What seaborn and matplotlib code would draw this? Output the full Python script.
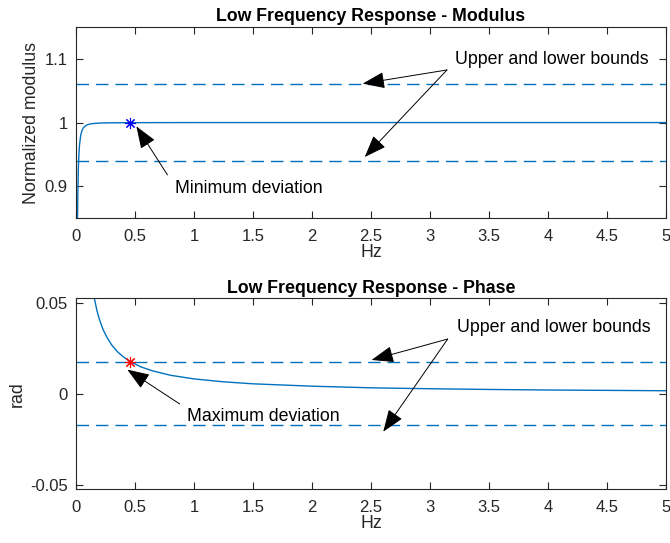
import matplotlib
matplotlib.use("Agg")
import matplotlib.pyplot as plt
import seaborn as sns
import pandas as pd

# ---- data ----
mod_freq = [0.0, 0.001, 0.002, 0.004, 0.006, 0.008, 0.01, 0.013, 0.016, 0.02, 0.025,
            0.03, 0.04, 0.05, 0.06, 0.07, 0.085, 0.1, 0.12, 0.15, 0.2, 0.3, 0.46,
            0.7, 1.0, 2.0, 3.0, 4.0, 5.0]
mod_value = [0.0, 0.12, 0.24, 0.44, 0.6, 0.70, 0.78, 0.85, 0.89, 0.927, 0.951,
             0.965, 0.980, 0.987, 0.991, 0.993, 0.9955, 0.9967, 0.9977, 0.9985, 0.9992, 0.9996, 0.9998,
             0.9999, 1.0, 1.0, 1.0, 1.0, 1.0]

ph_freq = [0.0, 0.02, 0.05, 0.08, 0.1, 0.12, 0.15, 0.18, 0.2, 0.23, 0.26, 0.3, 0.35, 0.4,
           0.46, 0.55, 0.65, 0.8, 1.0, 1.25, 1.5, 2.0, 2.5, 3.0, 3.5, 4.0, 4.5, 5.0]
ph_value = [0.0, 0.39, 0.161, 0.101, 0.081, 0.0675, 0.054, 0.045, 0.0405, 0.0352, 0.0312,
            0.027, 0.0231, 0.0203, 0.0176, 0.0147, 0.0125, 0.0101, 0.0081, 0.0065, 0.0054,
            0.0041, 0.0032, 0.0027, 0.0023, 0.0020, 0.0018, 0.0016]

mod_bounds = [1.06, 0.94]
ph_bounds = [0.01745, -0.01745]
mod_point = (0.46, 0.9998)
ph_point = (0.46, 0.0176)

x_ticks = [0, 0.5, 1, 1.5, 2, 2.5, 3, 3.5, 4, 4.5, 5]
x_ticklabels = ["0", "0.5", "1", "1.5", "2", "2.5", "3", "3.5", "4", "4.5", "5"]
mod_yticks = [0.9, 1.0, 1.1]
mod_yticklabels = ["0.9", "1", "1.1"]
ph_yticks = [-0.05, 0, 0.05]
ph_yticklabels = ["-0.05", "0", "0.05"]

titles = ["Low Frequency Response - Modulus", "Low Frequency Response - Phase"]
ylabels = ["Normalized modulus", "rad"]

sns.set_theme(style="white")
plt.rcParams["font.family"] = ["Liberation Sans", "DejaVu Sans"]
plt.rcParams["font.size"] = 11.5

LINE = "#0072BD"
AX = "#262626"
TXT = 12.8

fig = plt.figure(figsize=(6.7, 5.43), dpi=100)
ax1 = fig.add_axes([0.1134, 0.598, 0.8806, 0.3526])
ax2 = fig.add_axes([0.1134, 0.0994, 0.8806, 0.3513])

df_mod = pd.DataFrame({"Hz": mod_freq, "val": mod_value})
df_ph = pd.DataFrame({"Hz": ph_freq, "val": ph_value})

sns.lineplot(data=df_mod, x="Hz", y="val", ax=ax1, color=LINE, lw=1.0, sort=False)
sns.lineplot(data=df_ph, x="Hz", y="val", ax=ax2, color=LINE, lw=1.0, sort=False)

for b in mod_bounds:
    ax1.axhline(b, color=LINE, lw=1.0, dashes=(9, 5))
for b in ph_bounds:
    ax2.axhline(b, color=LINE, lw=1.0, dashes=(9, 5))

ax1.plot([mod_point[0]], [mod_point[1]], marker=(8, 2, 0), color="blue", ms=8, mew=0.8, ls="none")
ax2.plot([ph_point[0]], [ph_point[1]], marker=(8, 2, 0), color="red", ms=8, mew=0.8, ls="none")

ax1.set_ylim(0.85, 1.15)
ax2.set_ylim(-0.0524, 0.0524)

for ax, yt, ytl, t, yl in [(ax1, mod_yticks, mod_yticklabels, titles[0], ylabels[0]),
                           (ax2, ph_yticks, ph_yticklabels, titles[1], ylabels[1])]:
    ax.set_xlim(0, 5)
    ax.set_xticks(x_ticks)
    ax.set_xticklabels(x_ticklabels)
    ax.set_yticks(yt)
    ax.set_yticklabels(ytl)
    ax.set_title(t, fontweight="bold", fontsize=12.8, color="black", pad=4)
    ax.set_xlabel("Hz", fontsize=TXT, color=AX, labelpad=0)
    ax.set_ylabel(yl, fontsize=TXT, color=AX, labelpad=3)
    ax.tick_params(direction="in", length=5, width=0.8, colors=AX, labelsize=12,
                   top=True, right=True, bottom=True, left=True, pad=6)
    ax.tick_params(axis="x", pad=8)
    for s in ax.spines.values():
        s.set_color(AX)
        s.set_linewidth(0.8)

arrow = dict(arrowstyle="-|>,head_length=1.2,head_width=0.45", color="black", lw=0.7,
             shrinkA=0, shrinkB=0)

ax1.annotate("", xy=(0.512, 0.994), xytext=(0.775, 0.918), arrowprops=arrow)
ax1.text(0.838, 0.897, "Minimum deviation", fontsize=TXT, va="center", ha="left", color="black")
ax1.text(3.21, 1.099, "Upper and lower bounds", fontsize=TXT, va="center", ha="left", color="black")
ax1.annotate("", xy=(2.43, 1.061), xytext=(3.144, 1.0824), arrowprops=arrow)
ax1.annotate("", xy=(2.447, 0.946), xytext=(3.144, 1.0824), arrowprops=arrow)

ax2.annotate("", xy=(0.435, 0.0132), xytext=(0.879, -0.00566), arrowprops=arrow)
ax2.text(0.94, -0.01247, "Maximum deviation", fontsize=TXT, va="center", ha="left", color="black")
ax2.text(3.226, 0.0364, "Upper and lower bounds", fontsize=TXT, va="center", ha="left", color="black")
ax2.annotate("", xy=(2.505, 0.0185), xytext=(3.15, 0.030), arrowprops=arrow)
ax2.annotate("", xy=(2.604, -0.0209), xytext=(3.15, 0.030), arrowprops=arrow)

fig.savefig("out.png", dpi=100, facecolor="white")
